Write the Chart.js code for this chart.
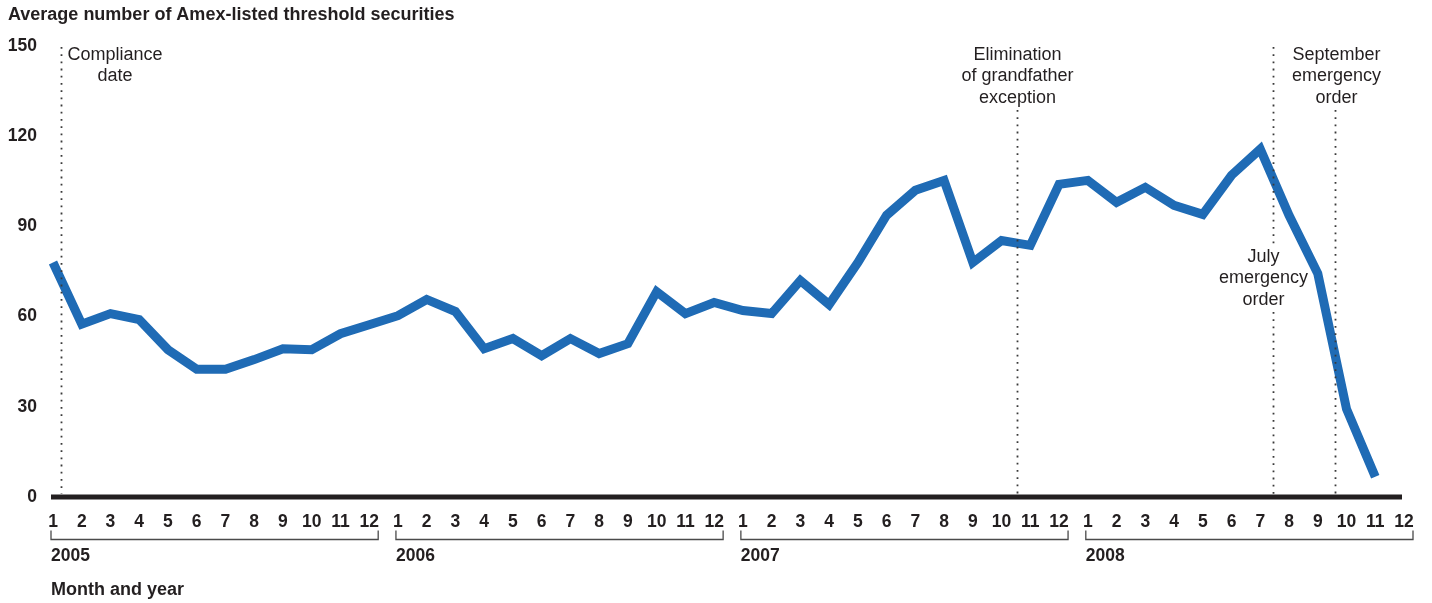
<!DOCTYPE html>
<html lang="en">
<head>
<meta charset="UTF-8">
<title>Amex-listed threshold securities</title>
<script src="https://cdn.jsdelivr.net/npm/chart.js"></script>
<style>
  html, body { margin: 0; padding: 0; background: #fff; }
  .grafico-box { position: relative; width: 1432px; height: 603px; }
</style>
</head>
<body>
<div class="grafico-box"><canvas id="grafico"></canvas></div>

<script>
  // meses 1..12 para cada ano (2005-2008)
  var meses = ['1','2','3','4','5','6','7','8','9','10','11','12',
               '1','2','3','4','5','6','7','8','9','10','11','12',
               '1','2','3','4','5','6','7','8','9','10','11','12',
               '1','2','3','4','5','6','7','8','9','10','11','12'];
  var anos = ['2005', '2006', '2007', '2008'];

  // media de titulos threshold listados na Amex
  var valores2005 = [78, 57.5, 61, 59, 49, 42.5, 42.5, 45.7, 49.3, 49, 54.3, 57.3];
  var valores2006 = [60.3, 65.7, 61.7, 49.3, 52.7, 47, 52.7, 47.7, 51, 68.3, 61, 64.7];
  var valores2007 = [62, 61, 72, 64, 78, 93.7, 102, 105.3, 78, 85.3, 83.7, 104];
  var valores2008 = [105.3, 98, 103, 97, 94, 107, 115.7, 93.7, 74.3, 29.3, 6.7];

  var yTicks = [0, 30, 60, 90, 120, 150];

  // eventos regulatorios: posicao em meses a partir de jan/2005
  var eventos = [
    { nome: 'compliance', mes: 0.28, texto: ['Compliance', 'date'] },
    { nome: 'grandfather', mes: 33.53, texto: ['Elimination', 'of grandfather', 'exception'] },
    { nome: 'julho', mes: 42.43, texto: ['July', 'emergency', 'order'] },
    { nome: 'setembro', mes: 44.6, texto: ['September', 'emergency', 'order'] }
  ];

  var valores = valores2005.concat(valores2006, valores2007, valores2008);

  var corTexto = '#231f20';
  var fonte = '"Liberation Sans", Arial, Helvetica, sans-serif';

  // onde cada texto fica em relacao a sua linha pontilhada
  var estiloEventos = {
    compliance:  { alinhar: 'direita', dx: 6,  yTexto: 55,  yLinha: 47 },
    grandfather: { alinhar: 'centro',  dx: 0,  yTexto: 55,  yLinha: 110 },
    julho:       { alinhar: 'centro',  dx: -10, yTexto: 257, yLinha: 47, vao: [244, 312] },
    setembro:    { alinhar: 'centro',  dx: 1,  yTexto: 55,  yLinha: 110 }
  };

  var anotacoes = {
    id: 'anotacoes',
    afterDatasetsDraw: function (chart) {
      var ctx = chart.ctx;
      var sx = chart.scales.x;
      var sy = chart.scales.y;
      var base = sy.getPixelForValue(0);

      ctx.save();

      // linha do zero
      ctx.fillStyle = corTexto;
      var x0 = sx.getPixelForValue(0) - 2;
      var x1 = sx.getPixelForValue(meses.length - 1) - 2;
      ctx.fillRect(x0, base - 2.5, x1 - x0, 5);

      // linhas pontilhadas + textos
      ctx.font = '18px ' + fonte;
      ctx.textBaseline = 'middle';
      eventos.forEach(function (ev) {
        var st = estiloEventos[ev.nome];
        var xl = Math.round(sx.getPixelForValue(ev.mes)) + 0.5;

        ctx.strokeStyle = '#3a3a3a';
        ctx.lineWidth = 1.8;
        ctx.setLineDash([1.8, 5.4]);
        ctx.beginPath();
        if (st.vao) {
          ctx.moveTo(xl, st.yLinha); ctx.lineTo(xl, st.vao[0]);
          ctx.moveTo(xl, st.vao[1]); ctx.lineTo(xl, base - 3);
        } else {
          ctx.moveTo(xl, st.yLinha); ctx.lineTo(xl, base - 3);
        }
        ctx.stroke();
        ctx.setLineDash([]);

        var largura = 0;
        ev.texto.forEach(function (t) { largura = Math.max(largura, ctx.measureText(t).width); });
        var cx = st.alinhar === 'direita' ? xl + st.dx + largura / 2 : xl + st.dx;
        ctx.fillStyle = corTexto;
        ctx.textAlign = 'center';
        ev.texto.forEach(function (t, i) {
          ctx.fillText(t, cx, st.yTexto + i * 21.5);
        });
      });

      // chaves dos anos
      ctx.strokeStyle = '#4a4a4a';
      ctx.lineWidth = 1.3;
      ctx.font = 'bold 17.5px ' + fonte;
      ctx.textAlign = 'left';
      anos.forEach(function (ano, i) {
        var a = sx.getPixelForValue(i * 12) - 2;
        var b = sx.getPixelForValue(i * 12 + 11) + 9;
        var yb = base + 42.5;
        ctx.beginPath();
        ctx.moveTo(a, yb - 9); ctx.lineTo(a, yb); ctx.lineTo(b, yb); ctx.lineTo(b, yb - 9);
        ctx.stroke();
        ctx.fillStyle = corTexto;
        ctx.fillText(ano, a, base + 59);
      });

      ctx.font = 'bold 18px ' + fonte;
      ctx.fillText('Month and year', sx.getPixelForValue(0) - 2, base + 93);

      ctx.restore();
    }
  };

  var config = {
    type: 'line',
    data: {
      labels: meses,
      datasets: [{
        label: 'Average number of Amex-listed threshold securities',
        data: valores,
        borderColor: '#1f6bb5',
        borderWidth: 9,
        borderJoinStyle: 'miter',
        borderCapStyle: 'butt',
        pointRadius: 0,
        tension: 0,
        fill: false
      }]
    },
    options: {
      responsive: true,
      maintainAspectRatio: false,
      animation: false,
      layout: { padding: { left: 8, right: 28, top: 0, bottom: 0 } },
      plugins: {
        legend: { display: false },
        tooltip: { enabled: false },
        title: {
          display: true,
          text: 'Average number of Amex-listed threshold securities',
          align: 'start',
          color: corTexto,
          font: { family: fonte, size: 18, weight: 'bold' },
          padding: { top: 4, bottom: 20.4 }
        }
      },
      scales: {
        x: {
          type: 'category',
          offset: false,
          grid: { display: false, drawTicks: false },
          border: { display: false },
          ticks: {
            autoSkip: false,
            maxRotation: 0,
            padding: 15,
            color: corTexto,
            font: { family: fonte, size: 17.5, weight: 'bold' }
          },
          afterFit: function (s) { s.height = 106; }
        },
        y: {
          min: 0,
          max: 150,
          grid: { display: false, drawTicks: false },
          border: { display: false },
          afterBuildTicks: function (s) { s.ticks = yTicks.map(function (v) { return { value: v }; }); },
          ticks: {
            padding: 16,
            color: corTexto,
            font: { family: fonte, size: 17.5, weight: 'bold' }
          },
          afterFit: function (s) { s.width = 45; }
        }
      }
    },
    plugins: [anotacoes]
  };

  new Chart(document.getElementById('grafico'), config);
</script>
</body>
</html>
